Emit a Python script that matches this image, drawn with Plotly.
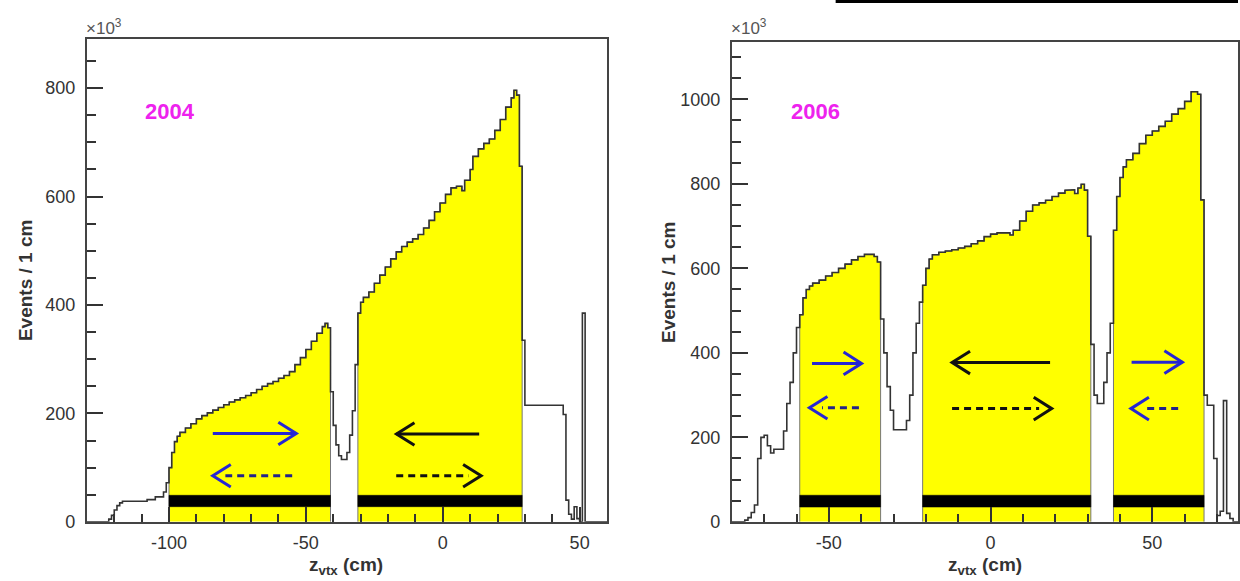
import plotly.graph_objects as go

W, H = 1240, 581

# ---------------- data: events per 1 cm bin, in units of 10^3 ----------------
# 2004 run
z04_edges = [-130, -122, -121, -120, -119, -118, -117, -108, -105, -102, -101, -100, -99, -98, -97,
             -96, -94, -92, -90, -88, -86, -84, -82, -80, -78, -76, -74, -72, -70, -68, -66, -64,
             -62, -60, -58, -56, -54, -52, -50, -48, -46, -44, -43, -42, -41, -40, -39, -38, -37,
             -35, -34, -33, -32, -31, -30, -29, -27, -25, -23, -21, -19, -17, -15, -13, -11, -9,
             -7, -5, -3, -1, 1, 3, 5, 7, 8, 10, 11, 13, 15, 17, 19, 21, 23, 25, 26, 27, 28, 29,
             30, 44, 45, 46, 47, 48, 49, 50, 51, 52, 60]
n04 = [0, 5, 12, 22, 30, 35, 38, 41, 46, 55, 72, 100, 128, 148, 158, 165, 173, 181, 190, 196,
       201, 206, 211, 216, 221, 225, 229, 233, 238, 244, 250, 255, 259, 265, 270, 277, 290, 303,
       318, 333, 348, 360, 366, 358, 240, 178, 142, 122, 115, 128, 160, 205, 290, 385, 405, 414,
       424, 440, 455, 470, 485, 498, 508, 516, 522, 530, 542, 556, 572, 588, 604, 616, 619, 611,
       630, 650, 674, 688, 698, 706, 722, 742, 765, 782, 796, 787, 656, 335, 215, 198, 40, 14, 5,
       28, 6, 0, 385, 0]

# 2006 run
z06_edges = [-80, -76, -75, -74, -73, -72, -71, -70, -69, -68, -67, -64, -63, -62, -61, -60, -59,
             -58, -57, -56, -55, -53, -51, -49, -47, -45, -43, -41, -39, -36, -35, -34, -33, -32,
             -31, -30, -26, -25, -24, -23, -22, -21, -20, -19, -18, -16, -14, -12, -10, -8, -6,
             -4, -2, 0, 2, 6, 7, 9, 11, 13, 15, 17, 19, 21, 23, 25, 26, 27, 28, 29, 30, 31, 32,
             33, 35, 36, 37, 38, 39, 40, 41, 42, 44, 46, 48, 50, 52, 54, 56, 58, 60, 62, 64, 65,
             66, 67, 69, 70, 71, 72, 73, 74, 75, 77]
n06 = [0, 4, 10, 22, 40, 150, 200, 205, 180, 163, 172, 215, 280, 330, 400, 460, 490, 530, 550,
       558, 565, 572, 582, 590, 600, 610, 620, 628, 633, 628, 615, 480, 400, 320, 264, 218, 240,
       300, 400, 470, 520, 560, 600, 622, 632, 638, 641, 644, 648, 652, 658, 665, 675, 681, 684,
       679, 690, 712, 735, 750, 755, 761, 770, 778, 785, 786, 777, 790, 799, 785, 676, 420, 300,
       280, 330, 400, 470, 690, 770, 815, 840, 857, 872, 895, 915, 925, 936, 948, 965, 978, 995,
       1018, 1012, 762, 300, 276, 150, 15, 25, 287, 20, 8, 0]

# tick labels
x04_tickvals = [-100, -50, 0, 50]
x04_ticktext = ["-100", "-50", "0", "50"]
x06_tickvals = [-50, 0, 50]
x06_ticktext = ["-50", "0", "50"]
y04_tickvals = [0, 200, 400, 600, 800]
y06_tickvals = [0, 200, 400, 600, 800, 1000]

# target-cell regions (yellow) and the black cell bars
cells04_lo = [-100, -31]
cells04_hi = [-41, 29]
cells06_lo = [-59, -21, 38]
cells06_hi = [-34, 31, 66]
bar04 = [28, 49]
bar06 = [35, 63]

# polarisation arrows: tail, tip, height, dashed?, colour
arr04_tail = [-84, -55, 13.3, -17]
arr04_tip = [-53.5, -84, -16.9, 14]
arr04_y = [163, 85, 162, 85]
arr04_dash = [False, True, False, True]
arr04_col = ["blue", "blue", "black", "black"]

arr06_tail = [-55.2, -40.7, 18.4, -11.9, 43.6, 58]
arr06_tip = [-39.9, -56, -11.9, 18.9, 59.3, 43.4]
arr06_y = [375, 270, 377, 268, 378, 268]
arr06_dash = [False, True, False, True, False, True]
arr06_col = ["blue", "blue", "black", "black", "blue", "blue"]

year_labels = ["2004", "2006"]

# ---------------- layout geometry ----------------
X1 = [87 / W, 608 / W]
X2 = [733 / W, 1.0]
Y1 = [(H - 531) / H, (H - 40) / H]
Y2 = [(H - 531) / H, (H - 43) / H]
XR1 = [-130, 60]
XR2 = [-80, 76.5]
YR1 = [0, 890]
YR2 = [0, 1135]

COL = {"blue": "#2626d4", "black": "#111111"}
SHAFT = {"blue": "#23238a", "black": "#111111"}


def step_xy(edges, vals):
    xs, ys = [], []
    for i, v in enumerate(vals):
        xs += [edges[i], edges[i + 1]]
        ys += [v, v]
    return xs, ys


def region_poly(edges, vals, lo, hi):
    xs, ys = [lo], [0]
    for i, v in enumerate(vals):
        a, b = max(edges[i], lo), min(edges[i + 1], hi)
        if a < b:
            xs += [a, b]
            ys += [v, v]
    xs += [hi]
    ys += [0]
    return xs, ys


fig = go.Figure()


def add_panel(edges, vals, lo_list, hi_list, bar, tails, tips, ys, dashes, cols, xa, ya, xdom, xr, ydom, yr):
    pxx = (xdom[1] - xdom[0]) * W / (xr[1] - xr[0])
    pxy = (ydom[1] - ydom[0]) * H / (yr[1] - yr[0])
    # yellow cells
    for lo, hi in zip(lo_list, hi_list):
        px, py = region_poly(edges, vals, lo, hi)
        fig.add_trace(go.Scatter(x=px, y=py, fill="toself", fillcolor="#ffff00", mode="lines",
                                 line=dict(color="#777777", width=1), xaxis=xa, yaxis=ya,
                                 hoverinfo="skip", showlegend=False))
    # histogram outline
    sx, sy = step_xy(edges, vals)
    fig.add_trace(go.Scatter(x=sx, y=sy, mode="lines", line=dict(color="#333333", width=1.6),
                             xaxis=xa, yaxis=ya, hoverinfo="skip", showlegend=False))
    # black cell bars
    for lo, hi in zip(lo_list, hi_list):
        fig.add_trace(go.Scatter(x=[lo, hi, hi, lo, lo], y=[bar[0], bar[0], bar[1], bar[1], bar[0]],
                                 fill="toself", fillcolor="#000000", mode="lines",
                                 line=dict(color="#000000", width=0.5), xaxis=xa, yaxis=ya,
                                 hoverinfo="skip", showlegend=False))
    # arrows
    L = 18 / pxx
    Hh = 11.5 / pxy
    for t0, t1, yv, dsh, c in zip(tails, tips, ys, dashes, cols):
        d = 1 if t1 > t0 else -1
        shaft_end = t1 - d * (0.7 * L if dsh else 0)
        fig.add_trace(go.Scatter(x=[t0, shaft_end], y=[yv, yv], mode="lines",
                                 line=dict(color=SHAFT[c] if dsh else COL[c], width=3,
                                           dash="7px,5px" if dsh else "solid"),
                                 xaxis=xa, yaxis=ya, hoverinfo="skip", showlegend=False))
        fig.add_trace(go.Scatter(x=[t1 - d * L, t1, t1 - d * L], y=[yv + Hh, yv, yv - Hh],
                                 mode="lines", line=dict(color=COL[c], width=3),
                                 xaxis=xa, yaxis=ya, hoverinfo="skip", showlegend=False))


add_panel(z04_edges, n04, cells04_lo, cells04_hi, bar04, arr04_tail, arr04_tip, arr04_y,
          arr04_dash, arr04_col, "x", "y", X1, XR1, Y1, YR1)
add_panel(z06_edges, n06, cells06_lo, cells06_hi, bar06, arr06_tail, arr06_tip, arr06_y,
          arr06_dash, arr06_col, "x2", "y2", X2, XR2, Y2, YR2)

tickfont = dict(family="Liberation Sans, Arial, sans-serif", size=18, color="#333333")


def xaxis(dom, rng, anchor, tv, tt):
    return dict(domain=dom, range=rng, anchor=anchor, showgrid=False, zeroline=False,
                showline=True, mirror=True, linecolor="#444444", linewidth=2,
                ticks="inside", ticklen=15, tickwidth=2, tickcolor="#333333",
                tickmode="array", tickvals=tv, ticktext=tt, tickfont=tickfont, ticklabelstandoff=4,
                minor=dict(ticks="inside", tick0=0, dtick=10, ticklen=8, tickwidth=1.5,
                           tickcolor="#333333"))


def yaxis(dom, rng, anchor, tv):
    return dict(domain=dom, range=rng, anchor=anchor, showgrid=False, zeroline=False,
                showline=True, mirror=True, linecolor="#444444", linewidth=2,
                ticks="inside", ticklen=16, tickwidth=2, tickcolor="#333333",
                tickmode="array", tickvals=tv, ticktext=[str(v) for v in tv],
                tickfont=tickfont, ticklabelstandoff=6,
                minor=dict(ticks="inside", tick0=0, dtick=50, ticklen=9, tickwidth=1.5,
                           tickcolor="#333333"))


ann = []
txtfont = "Liberation Sans, Arial, sans-serif"
panels = [
    dict(x10=84, ytitle_x=25, ytitle_y=285, xtitle_x=347, year_x=170, year=year_labels[0]),
    dict(x10=730, ytitle_x=669, ytitle_y=287, xtitle_x=987, year_x=817, year=year_labels[1]),
]
for p in panels:
    ann.append(dict(x=p["x10"] / W, y=(H - 27) / H, xref="paper", yref="paper", xanchor="left",
                    yanchor="middle", showarrow=False, text="×10<sup>3</sup>",
                    font=dict(family=txtfont, size=17, color="#555555")))
    ann.append(dict(x=p["ytitle_x"] / W, y=(H - p["ytitle_y"]) / H, xref="paper", yref="paper",
                    xanchor="center", yanchor="middle", showarrow=False, textangle=-90,
                    text="<b>Events / 1 cm</b>", font=dict(family=txtfont, size=19, color="#333333")))
    ann.append(dict(x=p["xtitle_x"] / W, y=(H - 576) / H, xref="paper", yref="paper",
                    xanchor="center", yanchor="middle", showarrow=False,
                    text="<b>z<sub>vtx</sub> (cm)</b>", font=dict(family=txtfont, size=19, color="#333333")))
    ann.append(dict(x=p["year_x"] / W, y=(H - 113) / H, xref="paper", yref="paper",
                    xanchor="center", yanchor="middle", showarrow=False,
                    text="<b>" + p["year"] + "</b>", font=dict(family=txtfont, size=22, color="#ee22ee")))

fig.update_layout(
    width=W, height=H, margin=dict(l=0, r=0, t=0, b=0),
    paper_bgcolor="white", plot_bgcolor="white", showlegend=False,
    xaxis=xaxis(X1, XR1, "y", x04_tickvals, x04_ticktext), yaxis=yaxis(Y1, YR1, "x", y04_tickvals),
    xaxis2=xaxis(X2, XR2, "y2", x06_tickvals, x06_ticktext), yaxis2=yaxis(Y2, YR2, "x2", y06_tickvals),
    annotations=ann,
    shapes=[dict(type="rect", xref="paper", yref="paper", x0=837 / W, x1=1.0,
                 y0=(H - 3) / H, y1=1.0, fillcolor="black", line=dict(width=0))],
)

fig.write_html("out.html", config={"displayModeBar": False},
               post_script="document.body.style.margin='0';document.body.style.overflow='hidden';")
